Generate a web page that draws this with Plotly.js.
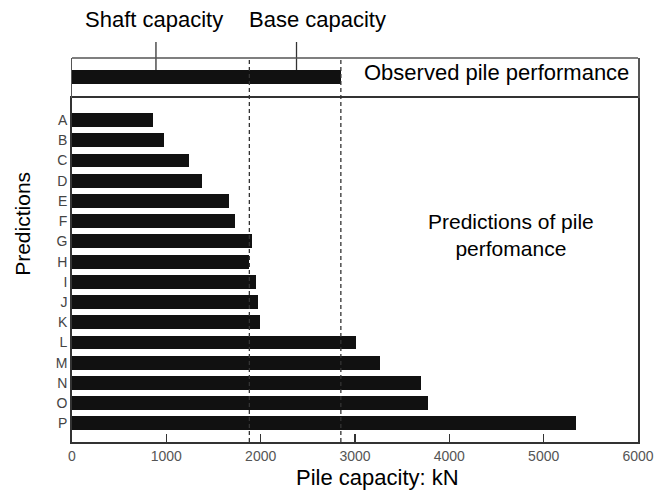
<!DOCTYPE html>
<html>
<head>
<meta charset="utf-8">
<script src="https://cdn.plot.ly/plotly-3.0.1.min.js"></script>
<style>html,body{margin:0;padding:0;background:#fff;}#chart{width:655px;height:493px;}</style>
</head>
<body>
<div id="chart"></div>
<script>
// Data
const categories = ["A","B","C","D","E","F","G","H","I","J","K","L","M","N","O","P"];
const predictedCapacity = [860, 970, 1240, 1380, 1660, 1730, 1910, 1880, 1950, 1970, 1990, 3010, 3260, 3700, 3770, 5340];
const observedLabel = ["Observed"];
const observedCapacity = [2850];
const shaftCapacityMark = 890;
const baseCapacityMark = 2380;
const dashedRefs = [1880, 2850];
const xTicks = [0, 1000, 2000, 3000, 4000, 5000, 6000];

const FONT = "Liberation Sans, Arial, sans-serif";
const INK = "#111";
const LINE = "#333";

const traces = [
  {
    type: "bar", orientation: "h",
    y: categories, x: predictedCapacity,
    xaxis: "x", yaxis: "y",
    marker: {color: INK, line: {width: 0}},
    width: 0.69, hoverinfo: "x+y", showlegend: false
  },
  {
    type: "bar", orientation: "h",
    y: observedLabel, x: observedCapacity,
    xaxis: "x", yaxis: "y2",
    marker: {color: INK, line: {width: 0}},
    width: 0.35, hoverinfo: "x", showlegend: false
  }
];

const split = 344 / 384;

const shapes = [];
dashedRefs.forEach(v => shapes.push({
  type: "line", xref: "x", yref: "paper", x0: v, x1: v, y0: 0, y1: 1,
  line: {color: LINE, width: 1.3, dash: "4px,3px"}
}));
[shaftCapacityMark, baseCapacityMark].forEach(v => shapes.push({
  type: "line", xref: "x", yref: "paper", x0: v, x1: v, y0: 0.96875, y1: 1.0417,
  line: {color: LINE, width: 1.3}
}));
// top border of the observed box
shapes.push({type: "line", xref: "paper", yref: "paper", x0: 0, x1: 1, y0: 1, y1: 1,
  line: {color: "#555", width: 1.5}});

function ann(text, x, y, size, extra) {
  return Object.assign({text: text, xref: "paper", yref: "paper", x: x, y: y,
    xanchor: "center", yanchor: "middle", showarrow: false,
    font: {family: FONT, size: size, color: "#000"}}, extra || {});
}

const annotations = [
  ann("Predictions", -0.0878, 0.569, 21, {textangle: -90}),
  ann("Pile capacity: kN", 0.5398, -0.0935, 22),
  ann("Shaft capacity", 0.1449, 1.099, 22),
  ann("Base capacity", 0.4337, 1.099, 22),
  ann("Observed pile performance", 0.512, 0.961, 22, {xanchor: "left"}),
  ann("Predictions of pile<br>perfomance", 0.7756, 0.540, 21, {align: "center"})
];

const layout = {
  width: 655, height: 493,
  margin: {l: 72, r: 17, t: 58, b: 51, pad: 0},
  paper_bgcolor: "#fff", plot_bgcolor: "#fff",
  font: {family: FONT},
  showlegend: false,
  bargap: 0,
  xaxis: {
    anchor: "y", range: [0, 6000], tickvals: xTicks,
    ticks: "inside", ticklen: 8, tickwidth: 1.3, tickcolor: LINE,
    showline: true, linecolor: LINE, linewidth: 1.8, mirror: true,
    showgrid: false, zeroline: false,
    tickfont: {family: FONT, size: 14, color: "#555"}
  },
  yaxis: {
    domain: [0, split], type: "category", categoryarray: categories, categoryorder: "array",
    range: [15.92, -1.09], autorange: false,
    showline: true, linecolor: LINE, linewidth: 1.8, mirror: true,
    showgrid: false, zeroline: false, ticks: "",
    tickfont: {family: FONT, size: 14, color: "#444"}
  },
  yaxis2: {
    domain: [split, 1], type: "category", anchor: "x",
    range: [-0.525, 0.475], autorange: false,
    showline: true, linecolor: "#555", linewidth: 1.5, mirror: true,
    showgrid: false, zeroline: false, showticklabels: false, ticks: ""
  },
  shapes: shapes,
  annotations: annotations
};

Plotly.newPlot("chart", traces, layout, {displayModeBar: false, staticPlot: true});
</script>
</body>
</html>
